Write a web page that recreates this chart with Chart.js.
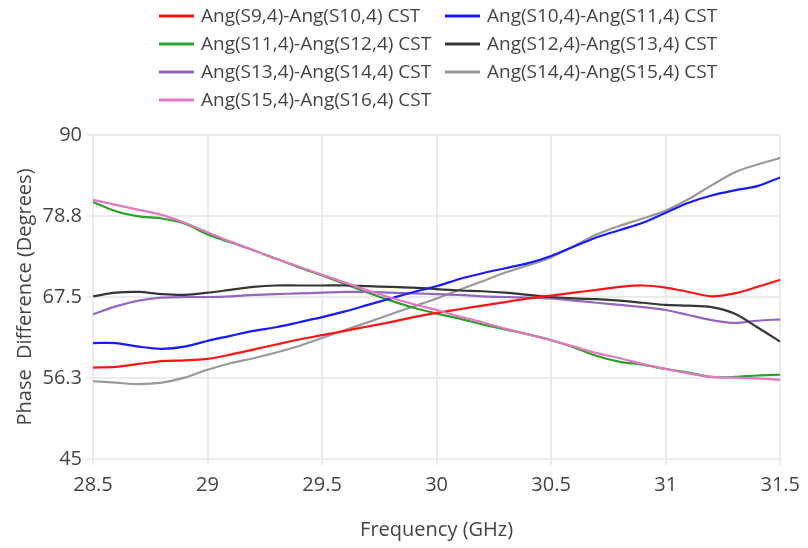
<!DOCTYPE html>
<html>
<head>
<meta charset="utf-8">
<script src="https://cdn.jsdelivr.net/npm/chart.js@4.4.1/dist/chart.umd.min.js"></script>
<style>
  html, body { margin: 0; padding: 0; background: #fff; }
  #wrap { position: relative; width: 808px; height: 548px; }
</style>
</head>
<body>
<div id="wrap"><canvas id="phaseChart"></canvas></div>
<script>
const freqs = [28.5, 28.6, 28.7, 28.8, 28.9, 29.0, 29.1, 29.2, 29.3, 29.4, 29.5, 29.6, 29.7, 29.8, 29.9,
               30.0, 30.1, 30.2, 30.3, 30.4, 30.5, 30.6, 30.7, 30.8, 30.9, 31.0, 31.1, 31.2, 31.3, 31.4, 31.5];

const s9_s10  = [57.7, 57.8, 58.2, 58.6, 58.7, 58.9, 59.5, 60.2, 60.9, 61.6, 62.2, 62.8, 63.4, 64.0, 64.7,
                 65.3, 65.8, 66.3, 66.8, 67.3, 67.7, 68.1, 68.5, 68.9, 69.1, 68.8, 68.2, 67.6, 68.0, 68.9, 69.9];
const s10_s11 = [61.1, 61.1, 60.6, 60.3, 60.6, 61.4, 62.1, 62.8, 63.3, 64.0, 64.7, 65.5, 66.4, 67.3, 68.2,
                 69.0, 70.0, 70.8, 71.5, 72.2, 73.2, 74.5, 75.8, 76.8, 77.8, 79.2, 80.6, 81.6, 82.3, 82.9, 84.1];
const s11_s12 = [80.7, 79.4, 78.7, 78.4, 77.7, 76.2, 75.1, 74.0, 72.8, 71.6, 70.5, 69.3, 68.1, 67.0, 66.0,
                 65.2, 64.5, 63.7, 63.0, 62.3, 61.5, 60.5, 59.3, 58.5, 58.1, 57.5, 57.0, 56.4, 56.4, 56.6, 56.7];
const s12_s13 = [67.6, 68.1, 68.2, 67.9, 67.8, 68.1, 68.5, 68.9, 69.1, 69.1, 69.1, 69.1, 69.0, 68.9, 68.8,
                 68.6, 68.4, 68.3, 68.1, 67.8, 67.5, 67.3, 67.2, 67.0, 66.7, 66.4, 66.3, 66.1, 65.2, 63.3, 61.3];
const s13_s14 = [65.1, 66.2, 67.0, 67.4, 67.5, 67.5, 67.6, 67.8, 67.9, 68.0, 68.1, 68.2, 68.2, 68.1, 68.0,
                 67.9, 67.8, 67.6, 67.5, 67.4, 67.3, 67.0, 66.7, 66.4, 66.1, 65.7, 65.0, 64.3, 63.9, 64.2, 64.4];
const s14_s15 = [55.8, 55.6, 55.4, 55.6, 56.3, 57.4, 58.3, 59.0, 59.8, 60.7, 61.8, 62.9, 64.0, 65.1, 66.2,
                 67.3, 68.5, 69.7, 70.9, 71.9, 73.0, 74.6, 76.2, 77.4, 78.4, 79.5, 81.1, 83.0, 84.8, 85.9, 86.8];
const s15_s16 = [81.0, 80.3, 79.6, 78.9, 77.8, 76.5, 75.2, 74.0, 72.8, 71.7, 70.6, 69.5, 68.4, 67.4, 66.5,
                 65.7, 64.8, 64.0, 63.1, 62.3, 61.5, 60.6, 59.7, 59.0, 58.2, 57.5, 56.9, 56.4, 56.3, 56.2, 56.0];

const seriesNames = [
  "Ang(S9,4)-Ang(S10,4) CST", "Ang(S10,4)-Ang(S11,4) CST",
  "Ang(S11,4)-Ang(S12,4) CST", "Ang(S12,4)-Ang(S13,4) CST",
  "Ang(S13,4)-Ang(S14,4) CST", "Ang(S14,4)-Ang(S15,4) CST",
  "Ang(S15,4)-Ang(S16,4) CST"
];
const seriesValues = [s9_s10, s10_s11, s11_s12, s12_s13, s13_s14, s14_s15, s15_s16];
const seriesColors = ["#ff1414", "#1a1aff", "#2ca02c", "#333833", "#9467bd", "#999999", "#e377c2"];
// pink sits on top of green where they overlap
const seriesOrder = [2, 2, 3, 2, 2, 3, 1];

const yTicks = [45, 56.25, 67.5, 78.75, 90];
const xTickStep = 0.5;

const FONT = "'Open Sans', sans-serif";
const TEXT = "#444";
const GRID = "#ebebeb";

// 56.25 -> "56.3", 29.0 -> "29"
const fmt = (v) => String(Number(v.toFixed(1)));

const datasets = seriesNames.map((name, i) => ({
  label: name,
  data: freqs.map((f, j) => ({ x: f, y: seriesValues[i][j] })),
  borderColor: seriesColors[i],
  backgroundColor: seriesColors[i],
  borderWidth: 2.2,
  pointRadius: 0,
  tension: 0.3,
  fill: false,
  order: seriesOrder[i]
}));

// two-column legend drawn above the plot
const legendGrid = {
  id: "legendGrid",
  afterDraw(chart) {
    const ctx = chart.ctx;
    const colX = [159, 445];
    const rowY = [16, 44, 72, 100];
    ctx.save();
    ctx.font = "19px " + FONT;
    ctx.textBaseline = "middle";
    ctx.textAlign = "left";
    chart.data.datasets.forEach((ds, i) => {
      const x = colX[i % 2];
      const y = rowY[Math.floor(i / 2)];
      ctx.strokeStyle = ds.borderColor;
      ctx.lineWidth = 3;
      ctx.beginPath();
      ctx.moveTo(x, y);
      ctx.lineTo(x + 35, y);
      ctx.stroke();
      ctx.fillStyle = TEXT;
      ctx.fillText(ds.label, x + 42, y + 1);
    });
    ctx.restore();
  }
};

new Chart(document.getElementById("phaseChart"), {
  type: "line",
  data: { datasets: datasets },
  plugins: [legendGrid],
  options: {
    responsive: true,
    maintainAspectRatio: false,
    animation: false,
    layout: { padding: { top: 135, right: 23, bottom: 0, left: 0 } },
    plugins: {
      legend: { display: false },
      tooltip: { enabled: false }
    },
    scales: {
      x: {
        type: "linear",
        min: 28.5,
        max: 31.5,
        afterFit: (scale) => { scale.height = 89; },
        ticks: {
          stepSize: xTickStep,
          padding: 8,
          color: TEXT,
          font: { family: FONT, size: 20 },
          maxRotation: 0,
          callback: fmt
        },
        grid: { color: GRID, lineWidth: 2, tickLength: 6, tickColor: GRID },
        border: { display: false },
        title: {
          display: true,
          text: "Frequency (GHz)",
          color: TEXT,
          font: { family: FONT, size: 20 },
          padding: { top: 0, bottom: 6 }
        }
      },
      y: {
        min: 45,
        max: 90,
        afterFit: (scale) => { scale.width = 93; },
        afterBuildTicks: (scale) => { scale.ticks = yTicks.map(v => ({ value: v })); },
        ticks: {
          padding: 5,
          color: TEXT,
          font: { family: FONT, size: 20 },
          callback: fmt
        },
        grid: { color: GRID, lineWidth: 2, tickLength: 6, tickColor: GRID },
        border: { display: false },
        title: {
          display: true,
          text: "Phase  Difference (Degrees)",
          color: TEXT,
          font: { family: FONT, size: 20 },
          padding: { top: 13, bottom: 0 }
        }
      }
    }
  }
});
</script>
</body>
</html>
